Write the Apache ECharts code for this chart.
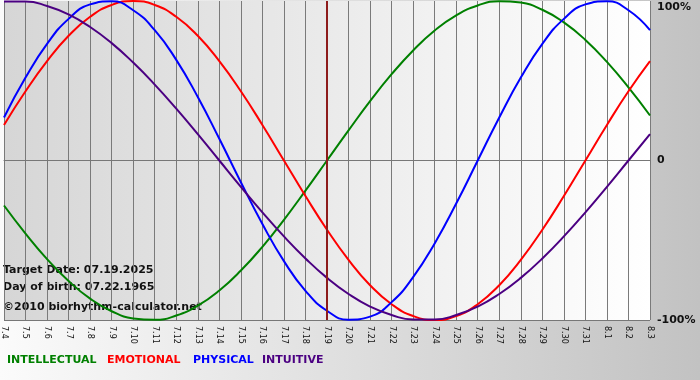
<!DOCTYPE html>
<html>
<head>
<meta charset="utf-8">
<script src="https://cdn.jsdelivr.net/npm/echarts@6/dist/echarts.min.js"></script>
<style>html,body{margin:0;padding:0;}#c{width:700px;height:380px;}</style>
</head>
<body>
<div id="c"></div>
<script>
var days = ['7.4','7.5','7.6','7.7','7.8','7.9','7.10','7.11','7.12','7.13','7.14','7.15','7.16','7.17','7.18','7.19','7.20','7.21','7.22','7.23','7.24','7.25','7.26','7.27','7.28','7.29','7.30','7.31','8.1','8.2','8.3'];
var intellectual = [-28.2,-45.8,-61.8,-75.6,-86.6,-94.5,-99.0,-99.9,-97.2,-91.0,-81.5,-69.0,-54.1,-37.2,-18.9,0,18.9,37.2,54.1,69.0,81.5,91.0,97.2,99.9,99.0,94.5,86.6,75.6,61.8,45.8,28.2];
var emotional = [22.3,43.4,62.3,78.2,90.1,97.5,100,97.5,90.1,78.2,62.3,43.4,22.3,0,-22.3,-43.4,-62.3,-78.2,-90.1,-97.5,-100,-97.5,-90.1,-78.2,-62.3,-43.4,-22.3,0,22.3,43.4,62.3];
var physical = [27.0,52.0,73.1,88.8,97.9,99.8,94.2,81.7,63.1,39.8,13.6,-13.6,-39.8,-63.1,-81.7,-94.2,-99.8,-97.9,-88.8,-73.1,-52.0,-27.0,0,27.0,52.0,73.1,88.8,97.9,99.8,94.2,81.7];
var intuitive = [99.7,99.7,96.9,91.6,83.7,73.6,61.4,47.6,32.5,16.5,0,-16.5,-32.5,-47.6,-61.4,-73.6,-83.7,-91.6,-96.9,-99.7,-99.7,-96.9,-91.6,-83.7,-73.6,-61.4,-47.6,-32.5,-16.5,0,16.5];
var targetDay = '7.19';
var infoLines = ['Target Date: 07.19.2025','Day of birth: 07.22.1965','\u00a92010 biorhythm-calculator.net'];
var seriesNames = ['INTELLECTUAL','EMOTIONAL','PHYSICAL','INTUITIVE'];
var seriesColors = ['#008000','#ff0000','#0000ff','#4b0082'];

var chart = echarts.init(document.getElementById('c'));
var FONT = 'DejaVu Sans';
var seriesData = [intellectual, emotional, physical, intuitive];
var series = seriesData.map(function(d, i){
  return {
    name: seriesNames[i], type: 'line', data: d, smooth: true, showSymbol: false,
    symbol: 'none', lineStyle: {color: seriesColors[i], width: 2}, itemStyle:{color: seriesColors[i]},
    z: 3
  };
});
series[0].markLine = {
  silent: true, symbol: 'none', label: {show: false},
  lineStyle: {color: '#8e1c1c', width: 2, type: 'solid'},
  data: [{xAxis: targetDay}]
};
var legendX = [7, 107, 193, 262];
var graphics = [];
infoLines.forEach(function(t, i){
  graphics.push({type:'text', left: 3, top: [265, 282, 302][i], style:{text: t, font: 'bold 11px ' + FONT, fill: '#111'}});
});
seriesNames.forEach(function(n, i){
  graphics.push({type:'text', left: legendX[i], top: 355, style:{text: n, font: 'bold 11px ' + FONT, fill: seriesColors[i]}});
});

chart.setOption({
  backgroundColor: new echarts.graphic.LinearGradient(0,0,1,0,[{offset:0,color:'#fbfbfb'},{offset:1,color:'#c2c2c2'}]),
  animation: false,
  grid: {left: 1, right: 50, top: 1, bottom: 60, show: true, borderWidth: 0,
    backgroundColor: new echarts.graphic.LinearGradient(0,0,1,0,[{offset:0,color:'#d6d6d6'},{offset:1,color:'#ffffff'}])},
  xAxis: {
    type: 'category', data: days, boundaryGap: false,
    axisLine: {show: true, lineStyle: {color: '#777', width: 1}},
    axisTick: {show: true, length: 4, interval: 0, lineStyle: {color: '#777'}},
    axisLabel: {interval: 0, rotate: -90, fontSize: 8, fontFamily: FONT, color: '#111', margin: 6},
    splitLine: {show: true, interval: 0, lineStyle: {color: '#7a7a7a', width: 1}}
  },
  yAxis: {
    type: 'value', min: -100, max: 100, interval: 100, position: 'right',
    axisLine: {show: false}, axisTick: {show: false},
    axisLabel: {margin: 7, fontFamily: FONT, fontWeight: 'bold', fontSize: 11, color: '#111',
      formatter: function(v){ if (v === 100) return '{t|100%}'; return v === 0 ? '0' : v + '%'; },
      rich: {t: {padding: [12,0,0,0], fontFamily: FONT, fontWeight: 'bold', fontSize: 11, color: '#111'}}
    },
    splitLine: {show: true, lineStyle: {color: ['#777','#777','rgba(0,0,0,0)'], width: 1}}
  },
  series: series,
  graphic: graphics
});
</script>
</body>
</html>
